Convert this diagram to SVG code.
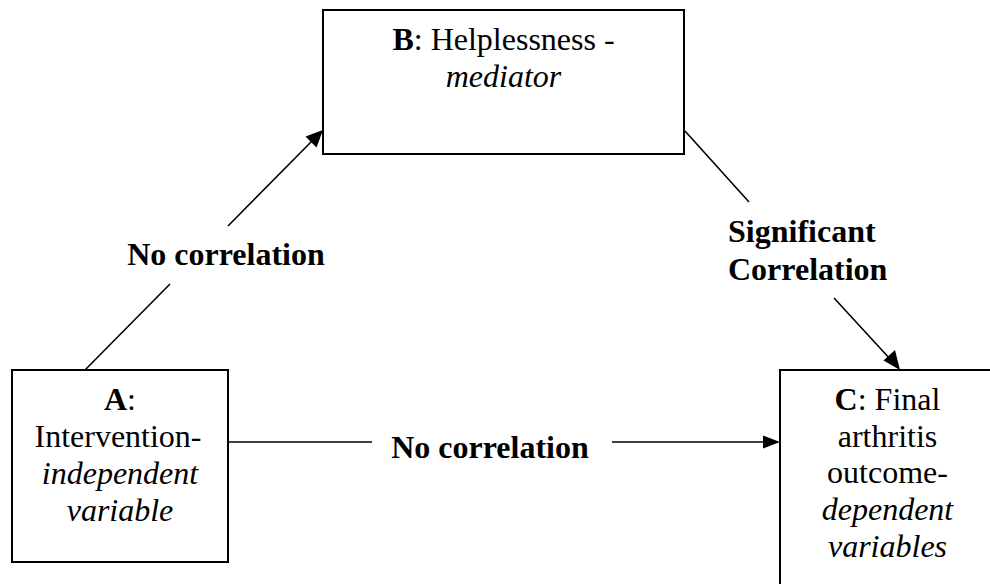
<svg xmlns="http://www.w3.org/2000/svg" width="990" height="584" viewBox="0 0 990 584">
  <rect width="990" height="584" fill="#ffffff"/>

  <g id="connectors">
    <g fill="none" stroke="#000000" stroke-width="1.6">
      <!-- A to B, broken around its label -->
      <line x1="85" y1="370" x2="170" y2="284"/>
      <line x1="228" y1="226" x2="313" y2="140"/>
      <!-- B to C, broken around its label -->
      <line x1="685" y1="131" x2="749" y2="202"/>
      <line x1="834" y1="298" x2="891" y2="360"/>
      <!-- A to C, broken around its label -->
      <line x1="228" y1="442" x2="372" y2="442"/>
      <line x1="612" y1="442" x2="766" y2="442"/>
    </g>
    <!-- arrowheads -->
    <g fill="#000000">
      <polygon points="323,130 316.5,147.5 305.5,136.5"/>
      <polygon points="900,370 883.5,360.5 895,350"/>
      <polygon points="780,442 763,435.5 763,448.5"/>
    </g>
    <text x="226" y="265" font-family="Liberation Serif" font-size="32" font-weight="bold" text-anchor="middle">No correlation</text>
    <text x="490" y="458" font-family="Liberation Serif" font-size="32" font-weight="bold" text-anchor="middle">No correlation</text>
    <text x="728" y="242" font-family="Liberation Serif" font-size="32" font-weight="bold">Significant</text>
    <text x="728" y="280" font-family="Liberation Serif" font-size="32" font-weight="bold">Correlation</text>
  </g>

  <g id="node-b">
    <rect x="323" y="10" width="361" height="144" fill="#ffffff" stroke="#000000" stroke-width="2"/>
    <text x="503.5" y="50" font-family="Liberation Serif" font-size="32" text-anchor="middle"><tspan font-weight="bold">B</tspan>: Helplessness -</text>
    <text x="503.5" y="87" font-family="Liberation Serif" font-size="32" font-style="italic" text-anchor="middle">mediator</text>
  </g>

  <g id="node-a">
    <rect x="12" y="370" width="216" height="192" fill="#ffffff" stroke="#000000" stroke-width="2"/>
    <text x="120" y="410" font-family="Liberation Serif" font-size="32" text-anchor="middle"><tspan font-weight="bold">A</tspan>:</text>
    <text x="118" y="447" font-family="Liberation Serif" font-size="32" text-anchor="middle">Intervention-</text>
    <text x="120" y="484" font-family="Liberation Serif" font-size="32" font-style="italic" text-anchor="middle">independent</text>
    <text x="120" y="521" font-family="Liberation Serif" font-size="32" font-style="italic" text-anchor="middle">variable</text>
  </g>

  <g id="node-c">
    <rect x="780" y="370" width="214" height="230" fill="#ffffff" stroke="#000000" stroke-width="2"/>
    <text x="887.5" y="410" font-family="Liberation Serif" font-size="32" text-anchor="middle"><tspan font-weight="bold">C</tspan>: Final</text>
    <text x="887.5" y="447" font-family="Liberation Serif" font-size="32" text-anchor="middle">arthritis</text>
    <text x="887.5" y="483" font-family="Liberation Serif" font-size="32" text-anchor="middle">outcome-</text>
    <text x="887.5" y="520" font-family="Liberation Serif" font-size="32" font-style="italic" text-anchor="middle">dependent</text>
    <text x="887.5" y="557" font-family="Liberation Serif" font-size="32" font-style="italic" text-anchor="middle">variables</text>
  </g>
</svg>
